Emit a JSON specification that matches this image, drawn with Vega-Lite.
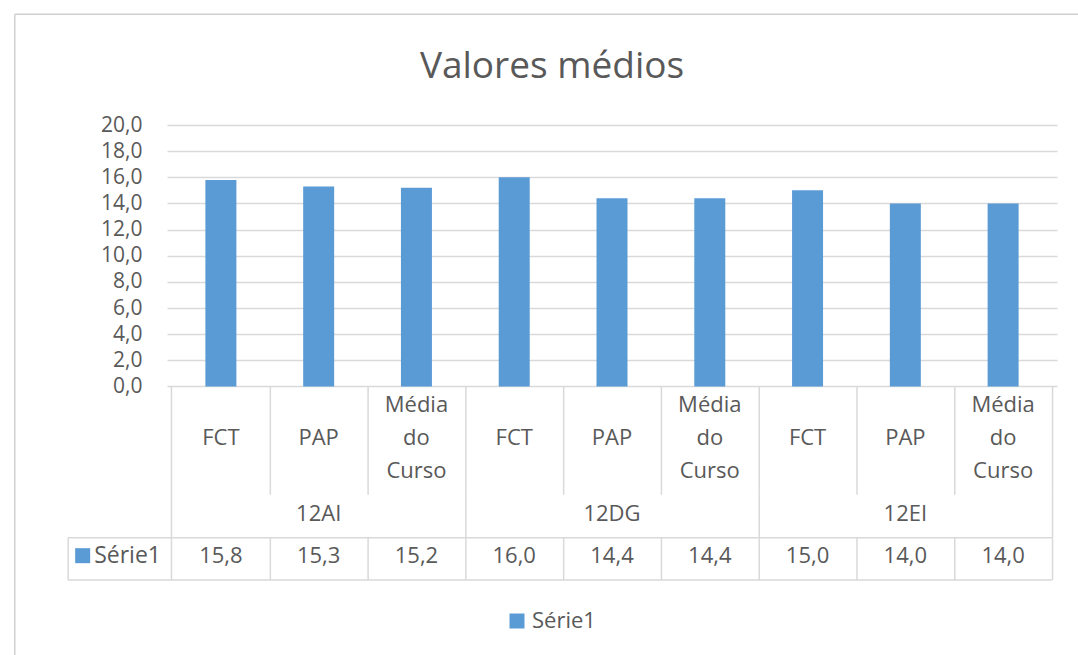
{
  "$schema": "https://vega.github.io/schema/vega-lite/v6.json",
  "width": 890,
  "height": 455,
  "autosize": "none",
  "padding": {"left": 167, "top": 125, "right": 21, "bottom": 75},
  "background": "white",
  "title": {"text": "Valores médios", "fontSize": 37, "font": "Open Sans", "fontWeight": "normal", "color": "#595959", "anchor": "middle", "dx": -60, "offset": -102, "baseline": "alphabetic"},
  "config": {
    "view": {"stroke": null},
    "font": "Open Sans",
    "text": {"font": "Open Sans", "fontSize": 22, "color": "#595959"},
    "rule": {"color": "#d9d9d9", "strokeWidth": 1.5}
  },
  "data": {"values": [
    {"serie": "Série1", "grupo": "12AI", "cat": "FCT", "i": 0, "valor": 15.8, "rotulo": "15,8"},
    {"serie": "Série1", "grupo": "12AI", "cat": "PAP", "i": 1, "valor": 15.3, "rotulo": "15,3"},
    {"serie": "Série1", "grupo": "12AI", "cat": "Média do Curso", "i": 2, "valor": 15.2, "rotulo": "15,2"},
    {"serie": "Série1", "grupo": "12DG", "cat": "FCT", "i": 3, "valor": 16.0, "rotulo": "16,0"},
    {"serie": "Série1", "grupo": "12DG", "cat": "PAP", "i": 4, "valor": 14.4, "rotulo": "14,4"},
    {"serie": "Série1", "grupo": "12DG", "cat": "Média do Curso", "i": 5, "valor": 14.4, "rotulo": "14,4"},
    {"serie": "Série1", "grupo": "12EI", "cat": "FCT", "i": 6, "valor": 15.0, "rotulo": "15,0"},
    {"serie": "Série1", "grupo": "12EI", "cat": "PAP", "i": 7, "valor": 14.0, "rotulo": "14,0"},
    {"serie": "Série1", "grupo": "12EI", "cat": "Média do Curso", "i": 8, "valor": 14.0, "rotulo": "14,0"}
  ]},
  "layer": [
    {
      "mark": {"type": "bar", "size": 31},
      "encoding": {
        "x": {"field": "i", "type": "quantitative", "scale": {"domain": [-0.5, 8.5], "nice": false, "zero": false}, "axis": null},
        "y": {"field": "valor", "type": "quantitative", "scale": {"domain": [-14.8, 20], "nice": false, "zero": false},
          "axis": {"values": [0, 2, 4, 6, 8, 10, 12, 14, 16, 18, 20], "format": ".1f", "labelExpr": "replace(datum.label, '.', ',')", "title": null, "domain": false, "ticks": false, "labelPadding": 25, "labelFontSize": 21, "labelColor": "#595959", "labelFont": "Open Sans", "grid": true, "gridColor": "#d9d9d9", "gridWidth": 1.5}},
        "y2": {"datum": 0},
        "color": {"field": "serie", "type": "nominal", "scale": {"range": ["#5b9bd5"]},
          "legend": {"title": null, "orient": "none", "legendX": 339, "legendY": 485, "symbolType": "square", "symbolSize": 225, "symbolStrokeWidth": 0, "symbolOpacity": 1, "labelFontSize": 22, "labelFont": "Open Sans", "labelColor": "#595959", "labelOffset": 4, "padding": 0}}
      }
    },
    {
      "transform": [{"filter": "datum.i === 0"}],
      "mark": {"type": "rule", "color": "#d0d0d0"},
      "encoding": {
        "x": {"datum": -2.108},
        "x2": {"datum": 9.8},
        "y": {"datum": 28.48}
      }
    },
    {
      "transform": [{"filter": "datum.i === 0"}],
      "mark": {"type": "rule", "color": "#d0d0d0"},
      "encoding": {
        "x": {"datum": -2.108},
        "y": {"datum": 28.48},
        "y2": {"datum": -25}
      }
    },
    {
      "transform": [{"filter": "datum.cat !== 'Média do Curso'"}],
      "mark": {"type": "text", "baseline": "middle"},
      "encoding": {
        "x": {"field": "i", "type": "quantitative"},
        "y": {"datum": -3.96},
        "text": {"field": "cat"}
      }
    },
    {
      "transform": [{"filter": "datum.cat === 'Média do Curso'"}],
      "mark": {"type": "text", "lineBreak": " ", "lineHeight": 33, "baseline": "middle", "dy": -33},
      "encoding": {
        "x": {"field": "i", "type": "quantitative"},
        "y": {"datum": -3.96},
        "text": {"field": "cat"}
      }
    },
    {
      "transform": [{"filter": "datum.cat === 'PAP'"}],
      "mark": {"type": "text", "baseline": "middle"},
      "encoding": {
        "x": {"field": "i", "type": "quantitative"},
        "y": {"datum": -9.77},
        "text": {"field": "grupo"}
      }
    },
    {
      "mark": {"type": "text", "baseline": "middle"},
      "encoding": {
        "x": {"field": "i", "type": "quantitative"},
        "y": {"datum": -12.94},
        "text": {"field": "rotulo"}
      }
    },
    {
      "mark": {"type": "rule", "xOffset": 49.44},
      "encoding": {
        "x": {"field": "i", "type": "quantitative"},
        "y": {"datum": 0},
        "y2": {"datum": -8.28}
      }
    },
    {
      "mark": {"type": "rule", "xOffset": 49.44},
      "encoding": {
        "x": {"field": "i", "type": "quantitative"},
        "y": {"datum": -11.57},
        "y2": {"datum": -14.8}
      }
    },
    {
      "transform": [{"filter": "datum.cat === 'Média do Curso'"}],
      "mark": {"type": "rule", "xOffset": 49.44},
      "encoding": {
        "x": {"field": "i", "type": "quantitative"},
        "y": {"datum": -8.28},
        "y2": {"datum": -11.57}
      }
    },
    {
      "transform": [{"filter": "datum.i === 0"}],
      "mark": {"type": "rule", "xOffset": -49.44},
      "encoding": {
        "x": {"field": "i", "type": "quantitative"},
        "y": {"datum": 0},
        "y2": {"datum": -14.8}
      }
    },
    {
      "transform": [{"filter": "datum.i === 0"}],
      "mark": {"type": "rule"},
      "encoding": {
        "x": {"datum": -1.562},
        "y": {"datum": -11.57},
        "y2": {"datum": -14.8}
      }
    },
    {
      "transform": [{"filter": "datum.i === 0"}],
      "mark": {"type": "rule"},
      "encoding": {
        "x": {"datum": -1.562},
        "x2": {"datum": 8.5},
        "y": {"datum": -11.57}
      }
    },
    {
      "transform": [{"filter": "datum.i === 0"}],
      "mark": {"type": "rule"},
      "encoding": {
        "x": {"datum": -1.562},
        "x2": {"datum": 8.5},
        "y": {"datum": -14.8}
      }
    },
    {
      "transform": [{"filter": "datum.i === 0"}],
      "mark": {"type": "square", "filled": true, "size": 225, "color": "#5b9bd5", "opacity": 1, "xOffset": 14.5},
      "encoding": {
        "x": {"datum": -1.562},
        "y": {"datum": -12.94}
      }
    },
    {
      "transform": [{"filter": "datum.i === 0"}],
      "mark": {"type": "text", "align": "left", "baseline": "middle", "dx": 26, "fontSize": 23},
      "encoding": {
        "x": {"datum": -1.562},
        "y": {"datum": -12.94},
        "text": {"field": "serie"}
      }
    }
  ]
}
